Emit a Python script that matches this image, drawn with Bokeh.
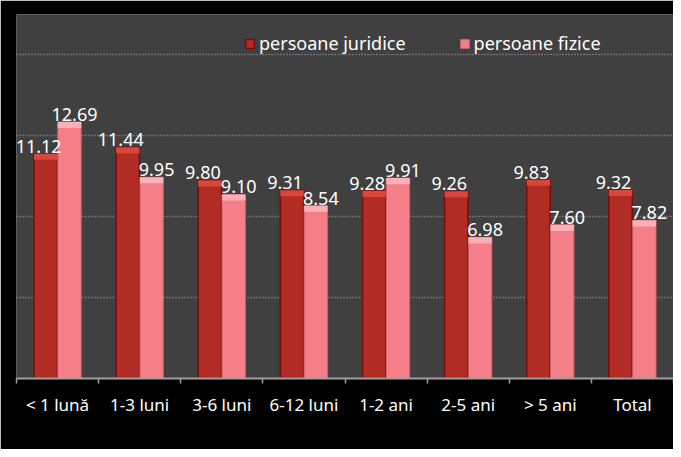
from bokeh.plotting import figure
from bokeh.models import FixedTicker, ColumnDataSource, Legend, LegendItem, Range1d
from bokeh.core.properties import value
from bokeh.embed import file_html
from bokeh.resources import INLINE

categories = ["< 1 lună", "1-3 luni", "3-6 luni", "6-12 luni", "1-2 ani", "2-5 ani", "> 5 ani", "Total"]
juridice = [11.12, 11.44, 9.80, 9.31, 9.28, 9.26, 9.83, 9.32]
fizice = [12.69, 9.95, 9.10, 8.54, 9.91, 6.98, 7.60, 7.82]
series_names = ["persoane juridice", "persoane fizice"]

FONT = "Noto Sans"
DARK = "#b02c25"
DARK_EDGE = "#7a0a08"
DARK_CAP = "#d9463c"
PINK = "#f47f88"
PINK_EDGE = "#c9606a"
PINK_CAP = "#fbb0b5"

n = len(categories)
centers = [i + 0.5 for i in range(n)]
bw = 0.285
off = 0.145

p = figure(width=673, height=449, output_backend="svg", toolbar_location=None,
           x_range=Range1d(0, n), y_range=Range1d(0, 18),
           min_border_left=16, min_border_right=0, min_border_top=14, min_border_bottom=71)
p.background_fill_color = "#404040"
p.border_fill_color = "#000000"
p.outline_line_color = None

p.yaxis.visible = False
p.xgrid.visible = False
p.ygrid.ticker = FixedTicker(ticks=[4, 8, 12, 16])
p.ygrid.grid_line_color = "#9a9a9a"
p.ygrid.grid_line_dash = "1 2"
p.ygrid.grid_line_width = 1.5

p.xaxis.ticker = FixedTicker(ticks=centers, minor_ticks=list(range(n + 1)))
p.xaxis.major_label_overrides = {c: lab for c, lab in zip(centers, categories)}
p.xaxis.major_tick_out = 0
p.xaxis.major_tick_in = 0
p.xaxis.minor_tick_out = 5
p.xaxis.minor_tick_in = 0
p.xaxis.minor_tick_line_color = "#a0a0a0"
p.xaxis.minor_tick_line_width = 1.5
p.xaxis.axis_line_color = "#a0a0a0"
p.xaxis.axis_line_width = 2
p.xaxis.major_label_text_color = "#ffffff"
p.xaxis.major_label_text_font = FONT
p.xaxis.major_label_text_font_size = "17px"
p.xaxis.major_label_standoff = 9

xj = [c - off for c in centers]
xf = [c + off for c in centers]
src = ColumnDataSource(dict(xj=xj, xf=xf, j=juridice, f=fizice,
                            jl=["%.2f" % v for v in juridice], fl=["%.2f" % v for v in fizice],
                            jc=[v - 0.3 for v in juridice], fc=[v - 0.3 for v in fizice]))

rj = p.vbar(x="xj", top="j", width=bw, source=src, fill_color=DARK, line_color=DARK_EDGE, line_width=1.5)
rf = p.vbar(x="xf", top="f", width=bw, source=src, fill_color=PINK, line_color=PINK_EDGE, line_width=1)
p.vbar(x="xj", top="j", bottom="jc", width=bw, source=src, fill_color=DARK_CAP, line_color=None)
p.vbar(x="xf", top="f", bottom="fc", width=bw, source=src, fill_color=PINK_CAP, line_color=None)

p.text(x="xj", y="j", text="jl", source=src, text_color="#ffffff", text_font=value(FONT),
       text_font_size="18px", text_align="center", text_baseline="bottom", y_offset=-1, x_offset=-7)
p.text(x="xf", y="f", text="fl", source=src, text_color="#ffffff", text_font=value(FONT),
       text_font_size="18px", text_align="center", text_baseline="bottom", y_offset=-1, x_offset=5)

legend = Legend(items=[LegendItem(label=series_names[0], renderers=[rj]),
                       LegendItem(label=series_names[1], renderers=[rf])],
                location=(228, 323), orientation="horizontal")
legend.background_fill_alpha = 0
legend.border_line_color = None
legend.label_text_color = "#ffffff"
legend.label_text_font = FONT
legend.label_text_font_size = "18px"
legend.glyph_width = 11
legend.glyph_height = 11
legend.spacing = 53
legend.label_standoff = 4
p.add_layout(legend, "center")

open("out.html", "w").write(file_html(p, INLINE))
